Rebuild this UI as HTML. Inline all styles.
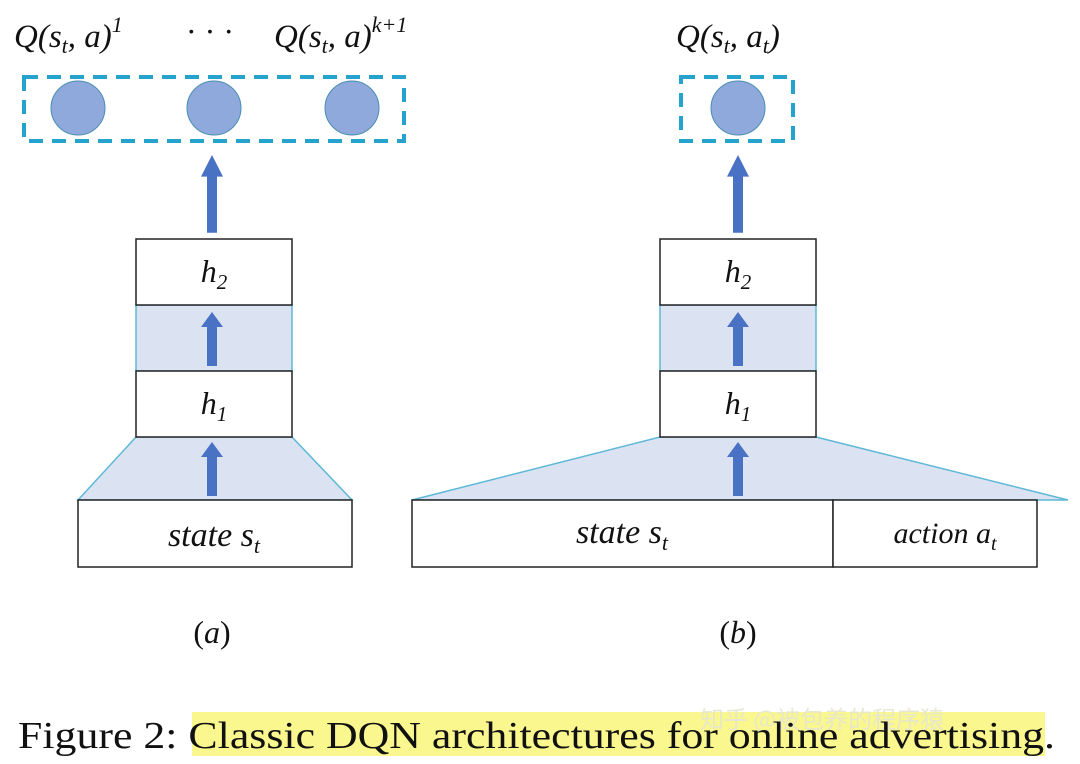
<!DOCTYPE html>
<html><head><style>body{margin:0;background:#fff}svg{display:block}.s{font-family:"Liberation Serif","Times New Roman",serif}</style></head><body>
<svg width="1080" height="764" viewBox="0 0 1080 764" xmlns="http://www.w3.org/2000/svg">
<defs>
<g id="arr"><rect x="-5" y="14" width="10" height="40" fill="#4a72c4"/><polygon points="-11,15 0,0 11,15" fill="#4a72c4"/></g>
</defs>
<g class="s" font-style="italic" fill="#111">
<text x="14" y="47" font-size="33">Q(s<tspan font-size="22" dy="6">t</tspan><tspan dy="-6">, a)</tspan><tspan font-size="22" dy="-15">1</tspan></text>
<text x="186" y="42" font-size="32" font-style="normal">· · ·</text>
<text x="274" y="47" font-size="33">Q(s<tspan font-size="22" dy="6">t</tspan><tspan dy="-6">, a)</tspan><tspan font-size="22" dy="-15">k+1</tspan></text>
<text x="676" y="47" font-size="33">Q(s<tspan font-size="22" dy="6">t</tspan><tspan dy="-6">, a</tspan><tspan font-size="22" dy="6">t</tspan><tspan dy="-6">)</tspan></text>
</g>
<g stroke="#26a3cc" stroke-width="4" stroke-dasharray="14,9" fill="none">
<rect x="24" y="77" width="380" height="64"/>
<rect x="681" y="77" width="112" height="64"/>
</g>
<g fill="#8fa9dc" stroke="#4a8fb0" stroke-width="1">
<circle cx="78" cy="108" r="27"/><circle cx="214" cy="108" r="27"/><circle cx="352" cy="108" r="27"/>
<circle cx="738" cy="108" r="27"/>
</g>
<polygon points="136,437 292,437 352,500 78,500" fill="#dbe3f3" stroke="#5cb8d6" stroke-width="1.5"/>
<rect x="136" y="305" width="156" height="66" fill="#dbe3f3" stroke="#5cb8d6" stroke-width="1.5"/>
<rect x="136" y="239" width="156" height="66" fill="#fff" stroke="#222" stroke-width="1.5"/>
<rect x="136" y="371" width="156" height="66" fill="#fff" stroke="#222" stroke-width="1.5"/>
<rect x="78" y="500" width="274" height="67" fill="#fff" stroke="#222" stroke-width="1.5"/>
<g transform="translate(212,155) scale(1,1.44)"><use href="#arr"/></g>
<use href="#arr" x="212" y="312"/>
<use href="#arr" x="212" y="442"/>
<polygon points="660,437 816,437 1068,500 412,500" fill="#dbe3f3" stroke="#5cb8d6" stroke-width="1.5"/>
<rect x="660" y="305" width="156" height="66" fill="#dbe3f3" stroke="#5cb8d6" stroke-width="1.5"/>
<rect x="660" y="239" width="156" height="66" fill="#fff" stroke="#222" stroke-width="1.5"/>
<rect x="660" y="371" width="156" height="66" fill="#fff" stroke="#222" stroke-width="1.5"/>
<rect x="412" y="500" width="421" height="67" fill="#fff" stroke="#222" stroke-width="1.5"/>
<rect x="833" y="500" width="204" height="67" fill="#fff" stroke="#222" stroke-width="1.5"/>
<g transform="translate(738,155) scale(1,1.44)"><use href="#arr"/></g>
<use href="#arr" x="738" y="312"/>
<use href="#arr" x="738" y="442"/>
<g class="s" font-style="italic" fill="#111" text-anchor="middle">
<text x="214" y="282" font-size="32">h<tspan font-size="21" dy="7">2</tspan></text>
<text x="214" y="414" font-size="32">h<tspan font-size="21" dy="7">1</tspan></text>
<text x="738" y="282" font-size="32">h<tspan font-size="21" dy="7">2</tspan></text>
<text x="738" y="414" font-size="32">h<tspan font-size="21" dy="7">1</tspan></text>
<text x="214" y="546" font-size="34">state s<tspan font-size="22" dy="7">t</tspan></text>
<text x="622" y="543" font-size="34">state s<tspan font-size="22" dy="7">t</tspan></text>
<text x="945" y="543" font-size="30">action a<tspan font-size="20" dy="7">t</tspan></text>
<text x="212" y="643" font-size="32" font-style="normal">(<tspan font-style="italic">a</tspan>)</text>
<text x="738" y="643" font-size="32" font-style="normal">(<tspan font-style="italic">b</tspan>)</text>
</g>
<rect x="192" y="712" width="853" height="44" fill="#faf78f"/>
<text x="700" y="728" style="font-family:'Noto Sans CJK SC',sans-serif" font-size="24" fill="#e6e6d0" opacity="0.9">知乎 @被包养的程序猿</text>
<text class="s" x="18" y="748" font-size="38" fill="#111" textLength="1037" lengthAdjust="spacingAndGlyphs">Figure 2: Classic DQN architectures for online advertising.</text>
</svg>
</body></html>
